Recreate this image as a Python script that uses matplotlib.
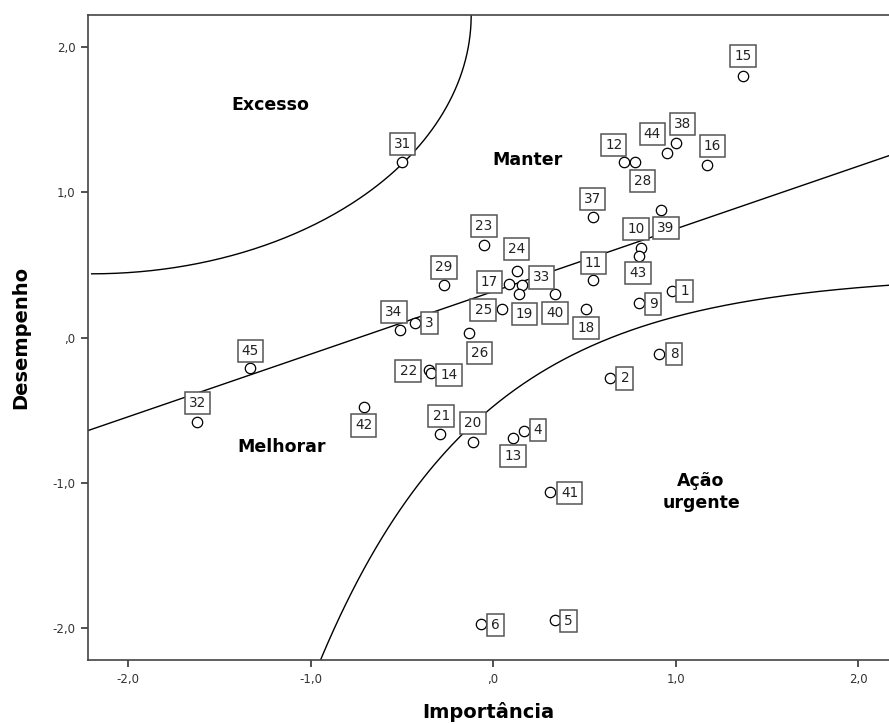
import numpy as np
import matplotlib
matplotlib.use("Agg")
import matplotlib.pyplot as plt
from matplotlib.ticker import FuncFormatter

# item numbers and standardized scores (importance, performance)
item_ids = [15, 38, 44, 12, 28, 16, 31, 37, 39, 10, 43, 23, 24, 29, 17, 33, 19, 40, 25, 11,
            18, 9, 1, 34, 3, 26, 45, 32, 42, 22, 14, 21, 20, 4, 13, 41, 2, 8, 6, 5]
importancia = [1.37, 1.005, 0.956, 0.716, 0.776, 1.17, -0.497, 0.546, 0.92, 0.81, 0.80, -0.05,
               0.13, -0.27, 0.09, 0.16, 0.14, 0.34, 0.05, 0.55, 0.51, 0.80, 0.98, -0.51, -0.43,
               -0.13, -1.33, -1.62, -0.71, -0.35, -0.34, -0.29, -0.11, 0.17, 0.11, 0.31, 0.64,
               0.91, -0.065, 0.34]
desempenho = [1.80, 1.34, 1.27, 1.21, 1.21, 1.19, 1.21, 0.83, 0.88, 0.62, 0.56, 0.64, 0.46,
              0.36, 0.37, 0.36, 0.30, 0.30, 0.20, 0.40, 0.20, 0.24, 0.32, 0.055, 0.10, 0.03,
              -0.21, -0.58, -0.48, -0.22, -0.24, -0.66, -0.72, -0.64, -0.69, -1.06, -0.28, -0.11,
              -1.97, -1.94]

# where each number box sits relative to its point (pixels)
label_offset = {
    15: (0, 20), 38: (6, 19), 44: (-15, 19), 12: (-10, 17), 28: (8, -19), 16: (6, 19),
    31: (0, 18), 37: (0, 18), 39: (5, -18), 10: (-5, 19), 43: (-1, -17), 23: (0, 19),
    24: (0, 22), 29: (0, 18), 17: (-20, 2), 33: (19, 8), 19: (6, -20), 40: (0, -19),
    25: (-19, -1), 11: (0, 17), 18: (0, -19), 9: (14, -1), 1: (13, 0), 34: (-6, 18),
    3: (15, 0), 26: (10, -20), 45: (0, 17), 32: (0, 19), 42: (0, -18), 22: (-21, -1),
    14: (18, -2), 21: (1, 18), 20: (0, 19), 4: (14, 1), 13: (0, -18), 41: (20, -1),
    2: (15, 0), 8: (15, 0), 6: (14, -1), 5: (13, -1),
}

# trend line and zone boundaries
slope, intercept = 0.431, 0.318
xmin, xmax = -2.22, 2.17
ymin, ymax = -2.22, 2.22

fig = plt.figure(figsize=(8.89, 7.24), dpi=100)
ax = fig.add_axes([0.099, 0.088, 0.901, 0.891])

# upper-left boundary (quarter ellipse around the corner)
t = np.linspace(0, np.pi / 2, 200)
ax.plot(-2.2 + 2.08 * np.sin(t), 2.22 - 1.78 * np.cos(t), color="black", lw=1)

# lower-right boundary
xs = np.linspace(-0.97, 2.3, 300)
ax.plot(xs, 0.44 - 0.913 * np.exp(-1.13 * xs), color="black", lw=1)

ax.axline((0, intercept), slope=slope, color="black", lw=1)

ax.scatter(importancia, desempenho, s=56, facecolors="white", edgecolors="black",
           linewidths=0.9, zorder=3)

for i, x, y in zip(item_ids, importancia, desempenho):
    dx, dy = label_offset[i]
    ax.annotate(str(i), (x, y), xytext=(dx, dy), textcoords="offset pixels",
                ha="center", va="center", fontsize=9.8, color="#222222", zorder=4,
                bbox=dict(boxstyle="square,pad=0.3", fc="white", ec="#555555", lw=1.1))

zone_font = dict(fontsize=12.5, fontweight="bold", ha="center", va="center")
ax.text(-1.22, 1.6, "Excesso", **zone_font)
ax.text(0.19, 1.22, "Manter", **zone_font)
ax.text(-1.16, -0.75, "Melhorar", **zone_font)
ax.text(1.14, -1.06, "Ação\nurgente", linespacing=1.25, **zone_font)

ax.set_xlim(xmin, xmax)
ax.set_ylim(ymin, ymax)
ax.set_xticks([-2, -1, 0, 1, 2])
ax.set_yticks([-2, -1, 0, 1, 2])

def spss_fmt(v, pos):
    s = f"{v:.1f}".replace(".", ",")
    if s.startswith("0,"):
        s = s[1:]
    if s.startswith("-0,"):
        s = "-" + s[2:]
    return s

ax.xaxis.set_major_formatter(FuncFormatter(spss_fmt))
ax.yaxis.set_major_formatter(FuncFormatter(spss_fmt))
ax.tick_params(direction="out", length=5, width=1.2, labelsize=8.5, colors="#333333", pad=4)
ax.spines["right"].set_visible(False)
for side in ["left", "bottom", "top"]:
    ax.spines[side].set_linewidth(1.2)
    ax.spines[side].set_color("#444444")

ax.set_xlabel("Importância", fontsize=14, fontweight="bold", labelpad=12)
ax.set_ylabel("Desempenho", fontsize=14, fontweight="bold", labelpad=16)

fig.savefig("out.png", dpi=100)
